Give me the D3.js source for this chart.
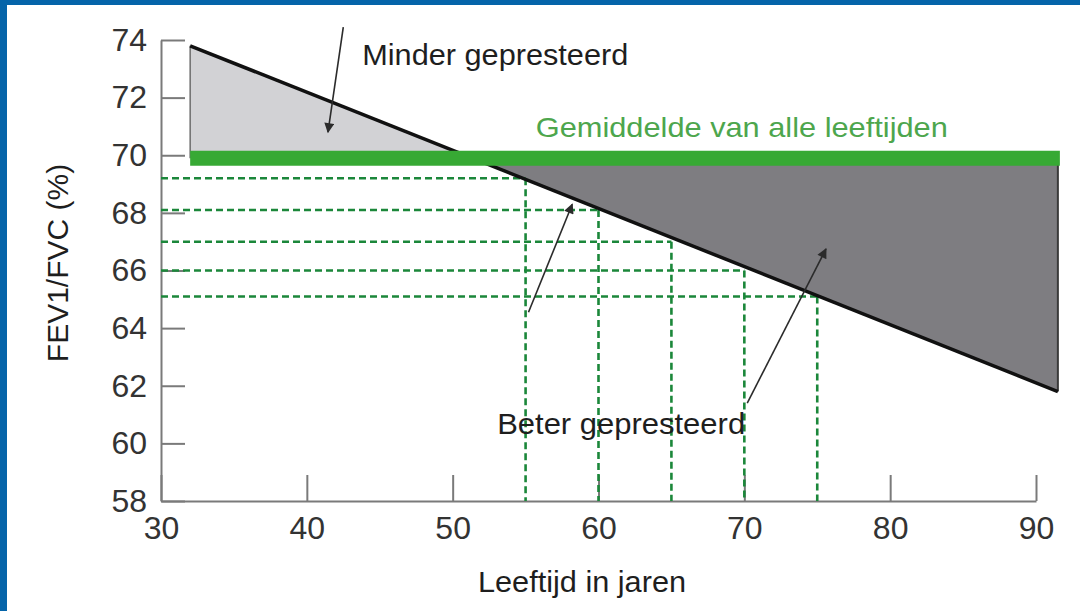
<!DOCTYPE html>
<html>
<head>
<meta charset="utf-8">
<script src="https://cdn.jsdelivr.net/npm/d3@7"></script>
<style>
  html, body { margin: 0; padding: 0; background: #fff; }
  svg { display: block; font-family: "Liberation Sans", Arial, sans-serif; }
  .axis path, .axis line { stroke: #7a7a7a; stroke-width: 2; }
  .axis text { fill: #333; font-size: 32px; font-family: "Liberation Sans", Arial, sans-serif; }
</style>
</head>
<body>
<div id="chart"></div>
<script>
// data
var xTicks = [30, 40, 50, 60, 70, 80, 90];
var yTicks = [58, 60, 62, 64, 66, 68, 70, 72, 74];
var trendAge = [32, 91.5];
var trendValue = [73.8, 61.8];
var averageValue = 69.9;
var markAges = [55, 60, 65, 70, 75];
var markValues = [69.2, 68.1, 67.0, 66.0, 65.1];

// annotations (in data units)
var arrowFrom = [[42.5, 74.45], [55.2, 64.55], [70.2, 61.4]];
var arrowTo = [[41.45, 70.8], [58.2, 68.3], [75.6, 66.75]];

var width = 1080, height = 611;

var x = d3.scaleLinear().domain([30, 90]).range([161, 1036]);
var y = d3.scaleLinear().domain([58, 74]).range([501, 40]);

var svg = d3.select('#chart').append('svg')
    .attr('width', width)
    .attr('height', height);

svg.append('rect').attr('width', width).attr('height', height).attr('fill', '#fff');
// blue frame (top + left)
svg.append('rect').attr('x', 0).attr('y', 0).attr('width', width).attr('height', 5).attr('fill', '#0564a9');
svg.append('rect').attr('x', 0).attr('y', 0).attr('width', 7).attr('height', height).attr('fill', '#0564a9');

var defs = svg.append('defs');
defs.append('marker')
    .attr('id', 'arrow')
    .attr('viewBox', '0 0 10 10')
    .attr('refX', 9).attr('refY', 5)
    .attr('markerWidth', 12).attr('markerHeight', 10)
    .attr('markerUnits', 'userSpaceOnUse')
    .attr('orient', 'auto')
    .append('path')
    .attr('d', 'M0,0 L10,5 L0,10 Z')
    .attr('fill', '#2b2b2b');

// where the trend line crosses the average
var slope = (trendValue[1] - trendValue[0]) / (trendAge[1] - trendAge[0]);
var crossAge = trendAge[0] + (averageValue - trendValue[0]) / slope;

var area = d3.line().x(function (d) { return x(d[0]); }).y(function (d) { return y(d[1]); });

// light region: worse than average
svg.append('path')
    .attr('d', area([[trendAge[0], trendValue[0]], [crossAge, averageValue], [trendAge[0], averageValue]]) + 'Z')
    .attr('fill', '#d2d2d5');
svg.append('line')
    .attr('x1', x(trendAge[0])).attr('x2', x(trendAge[0]))
    .attr('y1', y(trendValue[0])).attr('y2', y(averageValue))
    .attr('stroke', '#6d6d6d').attr('stroke-width', 1.5);

// dark region: better than average
svg.append('path')
    .attr('d', area([[crossAge, averageValue], [trendAge[1], averageValue], [trendAge[1], trendValue[1]]]) + 'Z')
    .attr('fill', '#7e7d81');
svg.append('line')
    .attr('x1', x(trendAge[1])).attr('x2', x(trendAge[1]))
    .attr('y1', y(averageValue)).attr('y2', y(trendValue[1]))
    .attr('stroke', '#3a3a3a').attr('stroke-width', 2);

// axes
var yAxis = d3.axisLeft(y).tickValues(yTicks).tickSize(-24).tickSizeOuter(0).tickPadding(14);
var xAxis = d3.axisBottom(x).tickValues(xTicks).tickSize(-26).tickSizeOuter(0).tickPadding(15);

svg.append('g').attr('class', 'axis')
    .attr('transform', 'translate(' + x(30) + ',0)')
    .call(yAxis);
svg.append('g').attr('class', 'axis')
    .attr('transform', 'translate(0,' + y(58) + ')')
    .call(xAxis);

// dashed guides
var marks = markAges.map(function (a, i) { return { age: a, value: markValues[i] }; });
var guides = svg.append('g')
    .attr('stroke', '#1b873a')
    .attr('stroke-width', 2.6)
    .attr('stroke-dasharray', '7,4')
    .attr('fill', 'none');
guides.selectAll('.h').data(marks).enter().append('line')
    .attr('class', 'h')
    .attr('x1', x(30)).attr('x2', function (d) { return x(d.age); })
    .attr('y1', function (d) { return y(d.value); })
    .attr('y2', function (d) { return y(d.value); });
guides.selectAll('.v').data(marks).enter().append('line')
    .attr('class', 'v')
    .attr('x1', function (d) { return x(d.age); })
    .attr('x2', function (d) { return x(d.age); })
    .attr('y1', function (d) { return y(d.value); })
    .attr('y2', y(58));

// trend line
svg.append('line')
    .attr('x1', x(trendAge[0])).attr('y1', y(trendValue[0]))
    .attr('x2', x(trendAge[1])).attr('y2', y(trendValue[1]))
    .attr('stroke', '#111').attr('stroke-width', 3.5);

// average band
svg.append('line')
    .attr('x1', x(trendAge[0])).attr('x2', x(trendAge[1]) + 2)
    .attr('y1', y(averageValue)).attr('y2', y(averageValue))
    .attr('stroke', '#37a934').attr('stroke-width', 15);

// arrows
svg.selectAll('.arrow').data(arrowFrom).enter().append('line')
    .attr('class', 'arrow')
    .attr('x1', function (d) { return x(d[0]); })
    .attr('y1', function (d) { return y(d[1]); })
    .attr('x2', function (d, i) { return x(arrowTo[i][0]); })
    .attr('y2', function (d, i) { return y(arrowTo[i][1]); })
    .attr('stroke', '#2b2b2b').attr('stroke-width', 1.6)
    .attr('marker-end', 'url(#arrow)');

// labels
svg.append('text')
    .attr('x', x(43.8)).attr('y', y(73.13))
    .attr('font-size', 29).attr('fill', '#1e1e1e')
    .attr('textLength', 266).attr('lengthAdjust', 'spacingAndGlyphs')
    .text('Minder gepresteerd');

svg.append('text')
    .attr('x', x(55.7)).attr('y', y(70.62))
    .attr('font-size', 28).attr('fill', '#4da64d')
    .attr('textLength', 412).attr('lengthAdjust', 'spacingAndGlyphs')
    .text('Gemiddelde van alle leeftijden');

svg.append('text')
    .attr('x', x(53.05)).attr('y', y(60.33))
    .attr('font-size', 29).attr('fill', '#1e1e1e')
    .attr('textLength', 248).attr('lengthAdjust', 'spacingAndGlyphs')
    .text('Beter gepresteerd');

svg.append('text')
    .attr('x', 478).attr('y', 592)
    .attr('font-size', 29).attr('fill', '#1e1e1e')
    .attr('textLength', 208).attr('lengthAdjust', 'spacingAndGlyphs')
    .text('Leeftijd in jaren');

svg.append('text')
    .attr('transform', 'translate(68,263) rotate(-90)')
    .attr('text-anchor', 'middle')
    .attr('font-size', 30).attr('fill', '#1e1e1e')
    .text('FEV1/FVC (%)');
</script>
</body>
</html>
